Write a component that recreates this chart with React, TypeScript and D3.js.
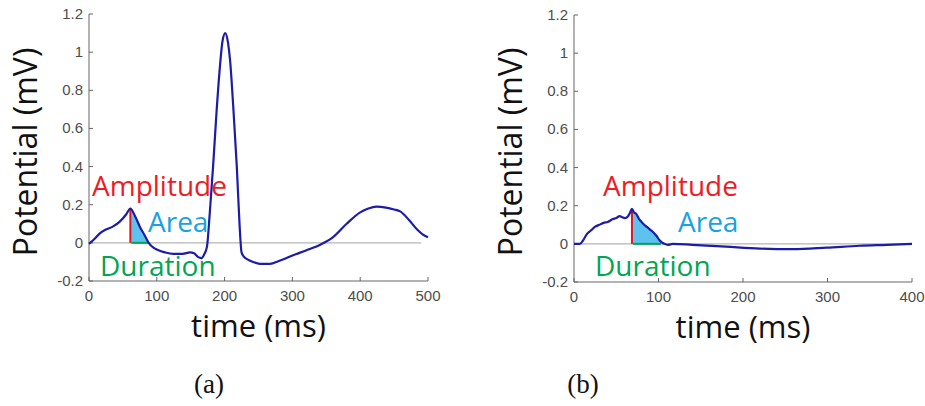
import React from 'react';
import * as d3 from 'd3';

// panel (a) waveform
const timeA = [0, 8, 16, 25, 35, 45, 55, 61, 68, 75, 82, 88, 95, 100, 112, 124, 138, 149, 155, 161, 166, 170, 174, 178, 183, 188, 193, 197, 201, 205, 208, 213, 218, 222, 225, 229, 233, 242, 252, 260, 267, 280, 301, 320, 341, 360, 380, 400, 412, 424, 438, 450, 459, 472, 484, 492, 500];
const potA = [-0.005, 0.02, 0.05, 0.07, 0.085, 0.11, 0.15, 0.18, 0.14, 0.085, 0.04, 0.0, -0.025, -0.035, -0.05, -0.058, -0.058, -0.05, -0.055, -0.075, -0.08, -0.06, -0.02, 0.15, 0.4, 0.68, 0.92, 1.06, 1.1, 1.05, 0.96, 0.7, 0.4, 0.1, -0.05, -0.075, -0.085, -0.1, -0.11, -0.11, -0.11, -0.095, -0.065, -0.04, -0.01, 0.03, 0.1, 0.16, 0.18, 0.19, 0.185, 0.175, 0.165, 0.12, 0.07, 0.045, 0.03];

// panel (b) waveform
const timeB = [0, 7, 11, 15, 20, 25, 30, 35, 40, 46, 50, 54, 57, 60, 64, 66, 68.6, 71, 74, 77, 80, 83, 86, 90, 94, 98, 101, 104, 107, 111, 117, 140, 180, 220, 259, 299, 338, 370, 400];
const potB = [0, 0, 0.02, 0.05, 0.07, 0.09, 0.1, 0.11, 0.115, 0.13, 0.135, 0.145, 0.14, 0.135, 0.145, 0.16, 0.183, 0.165, 0.155, 0.13, 0.115, 0.1, 0.09, 0.075, 0.06, 0.04, 0.02, 0.008, 0, -0.005, 0, -0.005, -0.015, -0.025, -0.028, -0.02, -0.01, -0.005, 0];

const yTicks = [-0.2, 0, 0.2, 0.4, 0.6, 0.8, 1, 1.2];
const xTicksA = [0, 100, 200, 300, 400, 500];
const xTicksB = [0, 100, 200, 300, 400];

// [peak time, zero crossing, duration end]
const markA = [61, 88, 87];
const markB = [68.6, 107, 103];

const LINE = '#1c1ca8';
const AXIS = '#666';
const TICK_TXT = '#4d4d4d';
const SANS = '"Open Sans", sans-serif';

const Panel = ({ times, pots, xTicks, mark, x0, x1, yTop, yBot, zeroEnd, lab, cap }) => {
    const x = d3.scaleLinear().domain([0, xTicks[xTicks.length - 1]]).range([x0, x1]);
    const y = d3.scaleLinear().domain([-0.2, 1.2]).range([yBot, yTop]);
    const pts = times.map((t, i) => [t, pots[i]]);

    const line = d3.line().x((d) => x(d[0])).y((d) => y(d[1])).curve(d3.curveMonotoneX);
    const area = d3
        .area()
        .x((d) => x(d[0]))
        .y0(y(0))
        .y1((d) => y(d[1]))
        .curve(d3.curveMonotoneX);
    const [tPk, tZero, tDur] = mark;
    const vPk = pots[times.indexOf(tPk)];
    const fillPts = pts.filter((d) => d[0] >= tPk && d[0] <= tZero);
    const fmt = (d) => String(+d.toFixed(1));

    return (
        <g>
            {/* zero line */}
            <line x1={x(0)} x2={x(zeroEnd)} y1={y(0)} y2={y(0)} stroke="#b5b5b5" strokeWidth={1.2} />

            {/* axes */}
            <line x1={x0} x2={x0} y1={yTop} y2={yBot} stroke={AXIS} />
            <line x1={x0} x2={x1} y1={yBot} y2={yBot} stroke={AXIS} />
            {yTicks.map((t) => (
                <g key={'y' + t}>
                    <line x1={x0} x2={x0 + 4} y1={y(t)} y2={y(t)} stroke={AXIS} />
                    <text x={x0 - 6} y={y(t) + 5} textAnchor="end" fontSize={15} fill={TICK_TXT} fontFamily="Liberation Sans, Arial">
                        {fmt(t)}
                    </text>
                </g>
            ))}
            {xTicks.map((t) => (
                <g key={'x' + t}>
                    <line x1={x(t)} x2={x(t)} y1={yBot} y2={yBot - 4} stroke={AXIS} />
                    <text x={x(t)} y={yBot + 20} textAnchor="middle" fontSize={15} fill={TICK_TXT} fontFamily="Liberation Sans, Arial">
                        {t}
                    </text>
                </g>
            ))}

            {/* area, amplitude, duration */}
            <path d={area(fillPts)} fill="#5ec2ee" stroke="#5ec2ee" strokeWidth={0.5} />
            <line x1={x(tPk)} x2={x(tPk)} y1={y(0)} y2={y(vPk)} stroke="#e8141c" strokeWidth={2} />
            <line x1={x(tPk) + 1} x2={x(tDur)} y1={y(0)} y2={y(0)} stroke="#00a651" strokeWidth={2} />

            <path d={line(pts)} fill="none" stroke={LINE} strokeWidth={2.2} />

            <text x={lab[0]} y={196} fontSize={28} fill="#ee1c25" fontFamily={SANS}>Amplitude</text>
            <text x={lab[1]} y={232} fontSize={28} fill="#1ba1e2" fontFamily={SANS}>Area</text>
            <text x={lab[2]} y={276} fontSize={28} fill="#00a651" fontFamily={SANS}>Duration</text>

            {/* axis titles */}
            <text transform={`translate(${x0 - 52},152) rotate(-90)`} textAnchor="middle" fontSize={32} fill="#111" fontFamily={SANS}>
                Potential (mV)
            </text>
            <text x={(x0 + x1) / 2} y={yBot + 56} textAnchor="middle" fontSize={31} fill="#111" fontFamily={SANS}>
                time (ms)
            </text>

            <text x={cap} y={393} textAnchor="middle" fontSize={27} fill="#111" fontFamily="Liberation Serif, serif">
                {cap < 400 ? '(a)' : '(b)'}
            </text>
        </g>
    );
};

export default function App() {
    return (
        <div style={{ position: 'fixed', left: 0, top: 0 }}>
            <svg width={925} height={406} style={{ display: 'block', background: '#fff' }}>
                <Panel times={timeA} pots={potA} xTicks={xTicksA} mark={markA} x0={89} x1={428} yTop={14} yBot={281} zeroEnd={490} lab={[92, 148, 100]} cap={209} />
                <Panel times={timeB} pots={potB} xTicks={xTicksB} mark={markB} x0={574} x1={912} yTop={15} yBot={282} zeroEnd={400} lab={[603, 678, 595]} cap={583} />
            </svg>
        </div>
    );
}
